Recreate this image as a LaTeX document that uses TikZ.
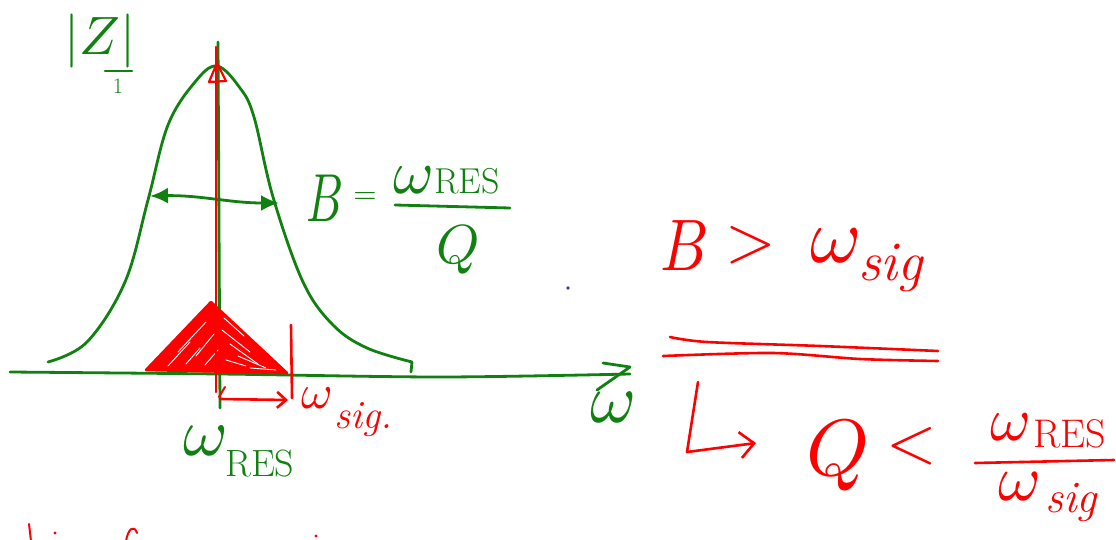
\documentclass[tikz,border=0pt]{standalone}
\usepackage{graphicx}
\usetikzlibrary{arrows.meta}
\definecolor{hg}{RGB}{16,128,16}
\definecolor{hr}{RGB}{255,0,0}
\definecolor{hb}{RGB}{60,60,170}
\tikzset{
  gpen/.style={draw=hg,line width=2.8pt,line cap=round,line join=round},
  rpen/.style={draw=hr,line width=2.6pt,line cap=round,line join=round},
  gtxt/.style={text=hg,inner sep=0pt},
  rtxt/.style={text=hr,inner sep=0pt},
  hatch/.style={draw=white,line width=0.9pt,line cap=round},
}
\newcommand{\fsz}[1]{\fontsize{#1}{#1}\selectfont}
% math at size #1 x 10pt
\newcommand{\mth}[2]{\scalebox{#1}{\fontsize{10}{10}\selectfont$#2$}}
\newcommand{\mthxy}[3]{\scalebox{#1}[#2]{\fontsize{10}{10}\selectfont$#3$}}
\begin{document}
\begin{tikzpicture}[x=1pt,y=-1pt]
\useasboundingbox (0,0) rectangle (1116,540);

% ---------- green: curve and axes ----------
\draw[gpen] plot[smooth,tension=0.6] coordinates {(48,362)(87,342)(125,282)(148,200)(168,125)(195,82)(217,66)(240,88)(254,117)(273,197)(303,282)(333,325)(367,348)(412,362)} -- (411,372);
\draw[gpen] plot[smooth,tension=0.5] coordinates {(10,372)(220,374)(440,377)(630,374)};
\draw[gpen] (603,363) -- (630,367) -- (597,390);
\draw[gpen] (218,42) -- (220,408);
\draw[gpen,{Latex[length=18pt,width=16pt]}-{Latex[length=18pt,width=16pt]}] (150,196) .. controls (200,195) and (230,203) .. (279,203);

% ---------- red: signal spectrum ----------
\fill[hr] (146,370) -- (211,302) -- (287,373) -- cycle;
\begin{scope}
  \clip (146,370) -- (211,302) -- (287,373) -- cycle;
  \draw[hatch] (178,352) -- (206,322);
  \draw[hatch] (196,356) -- (214,334);
  \draw[hatch] (168,366) -- (190,342);
  \draw[hatch] (186,364) -- (200,348);
  \draw[hatch] (222,330) -- (250,352);
  \draw[hatch] (230,344) -- (258,364);
  \draw[hatch] (224,318) -- (244,336);
  \draw[hatch] (238,356) -- (266,368);
  \draw[hatch] (205,365) -- (218,350);
  \draw[hatch] (250,368) -- (276,370);
  \draw[hatch] (226,360) -- (246,366);
\end{scope}
\draw[rpen] (146,370) -- (211,302) -- (287,373) -- cycle;
\draw[rpen] (216,392) -- (216,47);
\draw[rpen,line width=2.2pt] (209,82) -- (217,63) -- (226,81) -- cycle;
\draw[rpen] (291,325) -- (292,398);
\draw[rpen,-{Straight Barb[length=9pt,width=16pt]}] (220,399) -- (288,400);
\draw[rpen,line width=2pt] (225,387) -- (219,397);

% ---------- labels on the plot ----------
\node[gtxt] (zlab) at (100,41) {\mth{5.4}{|Z|}};
\draw[gpen,line width=2.4pt] (105,71) -- (132,71);
\node[gtxt] (zone) at (118,86) {\fsz{22}1};

\node[gtxt,anchor=base west] (bsym) at (306,222) {\mthxy{4.6}{6.8}{B}};
\node[gtxt] (beq) at (365,198) {\mth{3}{=}};
\node[gtxt,anchor=base west] (bnum) at (393,194) {\mth{6.2}{\omega}\fsz{36}RES};
\draw[gpen] (395,205) -- (510,208);
\node[gtxt,anchor=base] (bden) at (458,263) {\mth{5.5}{Q}};

\node[gtxt,anchor=base west] (wres) at (183,455) {\mth{6.8}{\omega}};
\node[gtxt,anchor=base west] (wresb) at (225,476) {\fsz{38}RES};
\node[gtxt,anchor=base west] (waxis) at (590,422) {\mth{7}{\omega}};

\node[rtxt,anchor=base west] (wsig) at (301,408) {\mth{4.8}{\omega}};
\node[rtxt,anchor=base west] (wsigb) at (334,428) {\fsz{40}\textit{sig.}};

\fill[hb] (568,288) circle (1.8);

% ---------- red conclusions ----------
\node[rtxt,anchor=base west] (rb) at (660,270) {\mthxy{6}{7.3}{B}};
\node[rtxt] (rgt) at (751,245) {\mth{6.5}{>}};
\node[rtxt,anchor=base west] (rw) at (810,262) {\mth{7.8}{\omega}};
\node[rtxt,anchor=base west] (rsig) at (858,280) {\fsz{56}\textit{sig}};

\draw[rpen] plot[smooth,tension=0.5] coordinates {(670,337)(707,342)(820,346)(938,351)};
\draw[rpen] plot[smooth,tension=0.5] coordinates {(663,356)(773,353)(860,359)(938,361)};

\coordinate (hk1) at (698,382);
\coordinate (hk2) at (687,452);
\coordinate (hk3) at (756,443);
\draw[rpen,-{Straight Barb[length=14pt,width=26pt]}] (hk1) -- (hk2) -- (hk3);

\node[rtxt,anchor=base west] (rq) at (806,475) {\mth{8}{Q}};
\node[rtxt] (rlt) at (912,446) {\mth{6.5}{<}};
\node[rtxt,anchor=base west] (rnw) at (990,440) {\mth{6.2}{\omega}};
\node[rtxt,anchor=base west] (rnres) at (1033,447) {\fsz{40}RES};
\draw[rpen] (975,463) -- (1114,460);
\node[rtxt,anchor=base west] (rdw) at (998,500) {\mth{6.5}{\omega}};
\node[rtxt,anchor=base west] (rdsig) at (1045,512) {\fsz{45}\textit{sig}};

% ---------- cut-off red text at the bottom ----------
\draw[rpen,line width=2pt] (29,524) -- (31,541);
\fill[hr] (55,533) circle (1.6);
\draw[rpen,line width=2pt] (126,541) .. controls (128,529) and (134,524) .. (137,533);
\fill[hr] (316,536) circle (1.6);
\end{tikzpicture}
\end{document}
